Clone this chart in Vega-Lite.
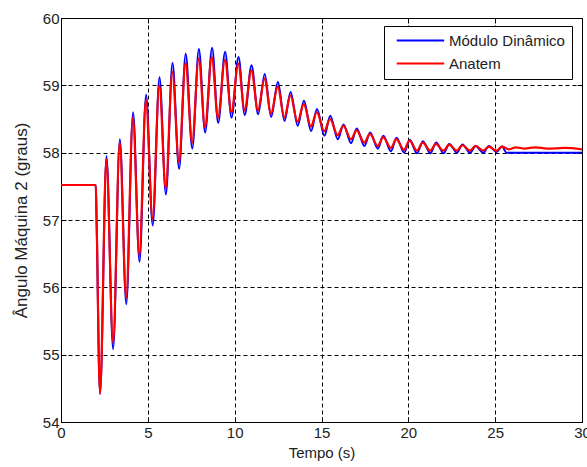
{
  "$schema": "https://vega.github.io/schema/vega-lite/v6.json",
  "width": 521,
  "height": 404,
  "autosize": "none",
  "padding": {"left": 61, "top": 18, "right": 5, "bottom": 45},
  "background": "white",
  "config": {
    "font": "Liberation Sans",
    "view": {"stroke": "#000", "strokeWidth": 1},
    "axis": {
      "domainColor": "#000",
      "tickColor": "#000",
      "labelColor": "#222",
      "titleColor": "#222",
      "labelFontSize": 15,
      "titleFontSize": 15,
      "titleFontWeight": "normal",
      "labelFont": "Liberation Sans",
      "titleFont": "Liberation Sans"
    }
  },
  "datasets": {
    "d": [
      {"serie": "Módulo Dinâmico", "t": 0, "v": 57.52},
      {"serie": "Módulo Dinâmico", "t": 2.0, "v": 57.52},
      {"serie": "Módulo Dinâmico", "t": 2.03, "v": 57.25},
      {"serie": "Módulo Dinâmico", "t": 2.08, "v": 56.6},
      {"serie": "Módulo Dinâmico", "t": 2.13, "v": 55.7},
      {"serie": "Módulo Dinâmico", "t": 2.18, "v": 54.9},
      {"serie": "Módulo Dinâmico", "t": 2.25, "v": 54.42},
      {"serie": "Módulo Dinâmico", "t": 2.62, "v": 57.95},
      {"serie": "Módulo Dinâmico", "t": 3.0, "v": 55.08},
      {"serie": "Módulo Dinâmico", "t": 3.39, "v": 58.2},
      {"serie": "Módulo Dinâmico", "t": 3.76, "v": 55.75},
      {"serie": "Módulo Dinâmico", "t": 4.15, "v": 58.6},
      {"serie": "Módulo Dinâmico", "t": 4.52, "v": 56.38},
      {"serie": "Módulo Dinâmico", "t": 4.9, "v": 58.86},
      {"serie": "Módulo Dinâmico", "t": 5.28, "v": 56.92},
      {"serie": "Módulo Dinâmico", "t": 5.67, "v": 59.12},
      {"serie": "Módulo Dinâmico", "t": 6.04, "v": 57.38},
      {"serie": "Módulo Dinâmico", "t": 6.42, "v": 59.33},
      {"serie": "Módulo Dinâmico", "t": 6.8, "v": 57.76},
      {"serie": "Módulo Dinâmico", "t": 7.18, "v": 59.47},
      {"serie": "Módulo Dinâmico", "t": 7.56, "v": 58.06},
      {"serie": "Módulo Dinâmico", "t": 7.94, "v": 59.54},
      {"serie": "Módulo Dinâmico", "t": 8.3, "v": 58.3},
      {"serie": "Módulo Dinâmico", "t": 8.7, "v": 59.56},
      {"serie": "Módulo Dinâmico", "t": 9.05, "v": 58.44},
      {"serie": "Módulo Dinâmico", "t": 9.45, "v": 59.5},
      {"serie": "Módulo Dinâmico", "t": 9.82, "v": 58.52},
      {"serie": "Módulo Dinâmico", "t": 10.22, "v": 59.42},
      {"serie": "Módulo Dinâmico", "t": 10.58, "v": 58.56},
      {"serie": "Módulo Dinâmico", "t": 10.97, "v": 59.3},
      {"serie": "Módulo Dinâmico", "t": 11.35, "v": 58.57},
      {"serie": "Módulo Dinâmico", "t": 11.73, "v": 59.17},
      {"serie": "Módulo Dinâmico", "t": 12.1, "v": 58.53},
      {"serie": "Módulo Dinâmico", "t": 12.49, "v": 59.05},
      {"serie": "Módulo Dinâmico", "t": 12.87, "v": 58.47},
      {"serie": "Módulo Dinâmico", "t": 13.22, "v": 58.9},
      {"serie": "Módulo Dinâmico", "t": 13.63, "v": 58.4},
      {"serie": "Módulo Dinâmico", "t": 13.99, "v": 58.77},
      {"serie": "Módulo Dinâmico", "t": 14.4, "v": 58.32},
      {"serie": "Módulo Dinâmico", "t": 14.74, "v": 58.65},
      {"serie": "Módulo Dinâmico", "t": 15.17, "v": 58.25},
      {"serie": "Módulo Dinâmico", "t": 15.5, "v": 58.55},
      {"serie": "Módulo Dinâmico", "t": 15.94, "v": 58.2},
      {"serie": "Módulo Dinâmico", "t": 16.27, "v": 58.42},
      {"serie": "Módulo Dinâmico", "t": 16.7, "v": 58.14},
      {"serie": "Módulo Dinâmico", "t": 17.03, "v": 58.36},
      {"serie": "Módulo Dinâmico", "t": 17.47, "v": 58.1},
      {"serie": "Módulo Dinâmico", "t": 17.8, "v": 58.3},
      {"serie": "Módulo Dinâmico", "t": 18.24, "v": 58.06},
      {"serie": "Módulo Dinâmico", "t": 18.56, "v": 58.25},
      {"serie": "Módulo Dinâmico", "t": 19.0, "v": 58.02},
      {"serie": "Módulo Dinâmico", "t": 19.32, "v": 58.22},
      {"serie": "Módulo Dinâmico", "t": 19.76, "v": 58.0},
      {"serie": "Módulo Dinâmico", "t": 20.08, "v": 58.19},
      {"serie": "Módulo Dinâmico", "t": 20.5, "v": 57.99},
      {"serie": "Módulo Dinâmico", "t": 20.84, "v": 58.17},
      {"serie": "Módulo Dinâmico", "t": 21.27, "v": 57.99},
      {"serie": "Módulo Dinâmico", "t": 21.6, "v": 58.15},
      {"serie": "Módulo Dinâmico", "t": 22.03, "v": 57.99},
      {"serie": "Módulo Dinâmico", "t": 22.36, "v": 58.13},
      {"serie": "Módulo Dinâmico", "t": 22.8, "v": 58.0},
      {"serie": "Módulo Dinâmico", "t": 23.12, "v": 58.12},
      {"serie": "Módulo Dinâmico", "t": 23.56, "v": 58.0},
      {"serie": "Módulo Dinâmico", "t": 23.88, "v": 58.1},
      {"serie": "Módulo Dinâmico", "t": 24.32, "v": 58.0},
      {"serie": "Módulo Dinâmico", "t": 24.64, "v": 58.1},
      {"serie": "Módulo Dinâmico", "t": 25.08, "v": 58.01},
      {"serie": "Módulo Dinâmico", "t": 25.4, "v": 58.09},
      {"serie": "Módulo Dinâmico", "t": 25.65, "v": 58.0},
      {"serie": "Módulo Dinâmico", "t": 30, "v": 58.0},
      {"serie": "Anatem", "t": 0, "v": 57.52},
      {"serie": "Anatem", "t": 2.0, "v": 57.52},
      {"serie": "Anatem", "t": 2.03, "v": 57.25},
      {"serie": "Anatem", "t": 2.08, "v": 56.6},
      {"serie": "Anatem", "t": 2.13, "v": 55.7},
      {"serie": "Anatem", "t": 2.18, "v": 54.9},
      {"serie": "Anatem", "t": 2.25, "v": 54.42},
      {"serie": "Anatem", "t": 2.61, "v": 57.9},
      {"serie": "Anatem", "t": 3.0, "v": 55.18},
      {"serie": "Anatem", "t": 3.38, "v": 58.15},
      {"serie": "Anatem", "t": 3.75, "v": 55.85},
      {"serie": "Anatem", "t": 4.14, "v": 58.52},
      {"serie": "Anatem", "t": 4.51, "v": 56.48},
      {"serie": "Anatem", "t": 4.89, "v": 58.78},
      {"serie": "Anatem", "t": 5.27, "v": 57.02},
      {"serie": "Anatem", "t": 5.66, "v": 59.0},
      {"serie": "Anatem", "t": 6.03, "v": 57.48},
      {"serie": "Anatem", "t": 6.41, "v": 59.2},
      {"serie": "Anatem", "t": 6.79, "v": 57.86},
      {"serie": "Anatem", "t": 7.17, "v": 59.33},
      {"serie": "Anatem", "t": 7.55, "v": 58.15},
      {"serie": "Anatem", "t": 7.93, "v": 59.4},
      {"serie": "Anatem", "t": 8.29, "v": 58.38},
      {"serie": "Anatem", "t": 8.68, "v": 59.42},
      {"serie": "Anatem", "t": 9.04, "v": 58.52},
      {"serie": "Anatem", "t": 9.44, "v": 59.38},
      {"serie": "Anatem", "t": 9.81, "v": 58.6},
      {"serie": "Anatem", "t": 10.21, "v": 59.32},
      {"serie": "Anatem", "t": 10.57, "v": 58.63},
      {"serie": "Anatem", "t": 10.96, "v": 59.22},
      {"serie": "Anatem", "t": 11.34, "v": 58.63},
      {"serie": "Anatem", "t": 11.72, "v": 59.1},
      {"serie": "Anatem", "t": 12.09, "v": 58.58},
      {"serie": "Anatem", "t": 12.48, "v": 58.98},
      {"serie": "Anatem", "t": 12.86, "v": 58.52},
      {"serie": "Anatem", "t": 13.21, "v": 58.85},
      {"serie": "Anatem", "t": 13.62, "v": 58.46},
      {"serie": "Anatem", "t": 13.98, "v": 58.72},
      {"serie": "Anatem", "t": 14.39, "v": 58.39},
      {"serie": "Anatem", "t": 14.73, "v": 58.6},
      {"serie": "Anatem", "t": 15.16, "v": 58.32},
      {"serie": "Anatem", "t": 15.49, "v": 58.5},
      {"serie": "Anatem", "t": 15.93, "v": 58.26},
      {"serie": "Anatem", "t": 16.26, "v": 58.4},
      {"serie": "Anatem", "t": 16.69, "v": 58.2},
      {"serie": "Anatem", "t": 17.02, "v": 58.33},
      {"serie": "Anatem", "t": 17.46, "v": 58.15},
      {"serie": "Anatem", "t": 17.79, "v": 58.28},
      {"serie": "Anatem", "t": 18.23, "v": 58.1},
      {"serie": "Anatem", "t": 18.55, "v": 58.23},
      {"serie": "Anatem", "t": 18.99, "v": 58.07},
      {"serie": "Anatem", "t": 19.31, "v": 58.2},
      {"serie": "Anatem", "t": 19.75, "v": 58.04},
      {"serie": "Anatem", "t": 20.07, "v": 58.18},
      {"serie": "Anatem", "t": 20.49, "v": 58.03},
      {"serie": "Anatem", "t": 20.83, "v": 58.15},
      {"serie": "Anatem", "t": 21.26, "v": 58.03},
      {"serie": "Anatem", "t": 21.59, "v": 58.13},
      {"serie": "Anatem", "t": 22.02, "v": 58.03},
      {"serie": "Anatem", "t": 22.35, "v": 58.12},
      {"serie": "Anatem", "t": 22.79, "v": 58.03},
      {"serie": "Anatem", "t": 23.11, "v": 58.11},
      {"serie": "Anatem", "t": 23.55, "v": 58.03},
      {"serie": "Anatem", "t": 23.87, "v": 58.1},
      {"serie": "Anatem", "t": 24.31, "v": 58.03},
      {"serie": "Anatem", "t": 24.63, "v": 58.09},
      {"serie": "Anatem", "t": 25.07, "v": 58.03},
      {"serie": "Anatem", "t": 25.39, "v": 58.09},
      {"serie": "Anatem", "t": 25.8, "v": 58.05},
      {"serie": "Anatem", "t": 26.2, "v": 58.08},
      {"serie": "Anatem", "t": 26.7, "v": 58.06},
      {"serie": "Anatem", "t": 27.3, "v": 58.08},
      {"serie": "Anatem", "t": 28.0, "v": 58.06},
      {"serie": "Anatem", "t": 29.0, "v": 58.07},
      {"serie": "Anatem", "t": 30, "v": 58.05}
    ]
  },
  "data": {"name": "d"},
  "resolve": {"axis": {"x": "independent", "y": "independent"}},
  "layer": [
    {
      "transform": [{"filter": "datum.serie === 'Módulo Dinâmico'"}],
      "mark": {"type": "line", "interpolate": "monotone", "strokeWidth": 2, "clip": true},
      "encoding": {
        "x": {"field": "t", "type": "quantitative",
          "scale": {"domain": [0, 30], "nice": false, "zero": false},
          "axis": {"orient": "bottom", "values": [0, 5, 10, 15, 20, 25, 30], "title": "Tempo (s)",
            "grid": true, "gridDash": [4, 3], "gridColor": "#000", "gridOpacity": 1, "gridWidth": 1,
            "tickSize": -5, "labelPadding": 8, "titlePadding": 5, "labelFlush": false}},
        "y": {"field": "v", "type": "quantitative",
          "scale": {"domain": [54, 60], "nice": false, "zero": false},
          "axis": {"orient": "left", "values": [54, 55, 56, 57, 58, 59, 60], "title": "Ângulo Máquina 2 (graus)",
            "titleFontSize": 17,
            "grid": true, "gridDash": [4, 3], "gridColor": "#000", "gridOpacity": 1, "gridWidth": 1,
            "tickSize": -5, "labelPadding": 7, "titlePadding": 12, "labelFlush": false}},
        "color": {"field": "serie", "type": "nominal",
          "scale": {"domain": ["Módulo Dinâmico", "Anatem"], "range": ["#0000ff", "#ff0000"]},
          "legend": {
            "orient": "none", "legendX": 323, "legendY": 8, "title": null,
            "symbolType": "M-1,0L9,0", "symbolSize": 90, "symbolStrokeWidth": 2, "symbolOffset": 3,
            "labelFontSize": 15, "labelColor": "#222", "labelFont": "Liberation Sans",
            "labelOffset": 40, "rowPadding": 7, "padding": 7,
            "strokeColor": "#000", "fillColor": "#fff", "cornerRadius": 0
          }}
      }
    },
    {
      "transform": [{"filter": "datum.serie === 'Anatem'"}],
      "mark": {"type": "line", "interpolate": "monotone", "strokeWidth": 2.2, "clip": true},
      "encoding": {
        "x": {"field": "t", "type": "quantitative",
          "axis": {"orient": "top", "values": [0, 5, 10, 15, 20, 25, 30], "title": null, "labels": false,
            "grid": false, "tickSize": -5}},
        "y": {"field": "v", "type": "quantitative",
          "axis": {"orient": "right", "values": [54, 55, 56, 57, 58, 59, 60], "title": null, "labels": false,
            "grid": false, "tickSize": -5}},
        "color": {"field": "serie", "type": "nominal"}
      }
    }
  ]
}
